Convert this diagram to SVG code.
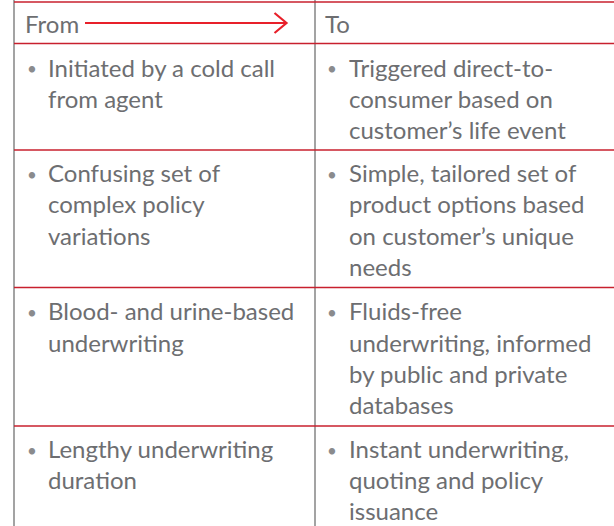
<svg xmlns="http://www.w3.org/2000/svg" width="614" height="526" viewBox="0 0 614 526">
<defs>
<style>
.t{font-family:Lato,"Open Sans","Liberation Sans",sans-serif;font-size:24px;fill:#6d6e71}
.b{font-family:Lato,"Open Sans","Liberation Sans",sans-serif;font-size:17px;fill:#8a8b8d}
.rl{stroke:#c8202e;stroke-width:1.4;fill:none}
.vl{stroke:#8c8c8c;stroke-width:1.6;fill:none}
</style>
</defs>
<rect width="614" height="526" fill="#ffffff"/>
<g id="grid">
<line class="vl" x1="14" y1="0" x2="14" y2="526"/>
<line class="vl" x1="315" y1="0" x2="315" y2="526"/>
<line class="rl" x1="14" y1="2" x2="614" y2="2"/>
<line class="rl" x1="14" y1="43.5" x2="614" y2="43.5"/>
<line class="rl" x1="14" y1="150" x2="614" y2="150"/>
<line class="rl" x1="14" y1="287.5" x2="614" y2="287.5"/>
<line class="rl" x1="14" y1="426" x2="614" y2="426"/>
</g>
<g id="header">
<text class="t" x="25" y="33">From</text>
<text class="t" x="325" y="33">To</text>
</g>
<g id="connectors">
<line x1="85" y1="23" x2="286" y2="23" stroke="#e8202a" stroke-width="2.2"/>
<polyline points="274.5,13 286.5,23 274.5,33" fill="none" stroke="#e8202a" stroke-width="2.2"/>
</g>
<g id="row1">
<text class="b" x="27" y="75">•</text>
<text class="t" x="48" y="76.5">Initiated by a cold call</text>
<text class="t" x="48" y="108">from agent</text>
<text class="b" x="327" y="75">•</text>
<text class="t" x="349" y="76.5">Triggered direct-to-</text>
<text class="t" x="349" y="108">consumer based on</text>
<text class="t" x="349" y="138.5">customer’s life event</text>
</g>
<g id="row2">
<text class="b" x="27" y="181">•</text>
<text class="t" x="48" y="182">Confusing set of</text>
<text class="t" x="48" y="213">complex policy</text>
<text class="t" x="48" y="244.5">variations</text>
<text class="b" x="327" y="181">•</text>
<text class="t" x="349" y="182">Simple, tailored set of</text>
<text class="t" x="349" y="213">product options based</text>
<text class="t" x="349" y="244.5">on customer’s unique</text>
<text class="t" x="349" y="276">needs</text>
</g>
<g id="row3">
<text class="b" x="27" y="319">•</text>
<text class="t" x="48" y="320">Blood- and urine-based</text>
<text class="t" x="48" y="351.5">underwriting</text>
<text class="b" x="327" y="319">•</text>
<text class="t" x="349" y="320">Fluids-free</text>
<text class="t" x="349" y="351.5">underwriting, informed</text>
<text class="t" x="349" y="383">by public and private</text>
<text class="t" x="349" y="414">databases</text>
</g>
<g id="row4">
<text class="b" x="27" y="457">•</text>
<text class="t" x="48" y="458">Lengthy underwriting</text>
<text class="t" x="48" y="489">duration</text>
<text class="b" x="327" y="457">•</text>
<text class="t" x="349" y="458">Instant underwriting,</text>
<text class="t" x="349" y="489">quoting and policy</text>
<text class="t" x="349" y="520">issuance</text>
</g>
</svg>
